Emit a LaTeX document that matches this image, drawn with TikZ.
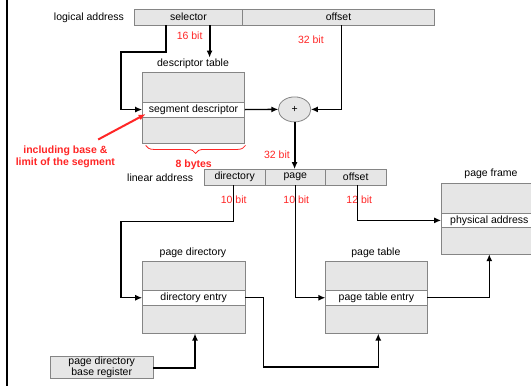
\documentclass[tikz,border=0pt]{standalone}
\usepackage{fontspec}
\setmainfont{Liberation Sans}
\usetikzlibrary{arrows.meta,decorations.pathreplacing,shapes.geometric,calc}
\definecolor{boxfill}{HTML}{E6E6E6}
\definecolor{boxline}{HTML}{858585}
\definecolor{lbl}{HTML}{FF2626}
\begin{document}
\begin{tikzpicture}[x=1pt,y=-1pt,
  every node/.style={font=\fontsize{10.5}{12}\selectfont, inner sep=0pt, outer sep=0pt},
  cell/.style={draw=boxline, fill=boxfill, line width=0.8pt, anchor=north west},
  rowcell/.style={cell, fill=white},
  redlbl/.style={text=lbl},
  redbold/.style={text=lbl, font=\fontsize{10.5}{13}\selectfont\bfseries},
  conn/.style={draw=black, line width=1.4pt, -{Latex[length=7pt,width=6pt]}},
  thickconn/.style={conn, line width=2pt},
  plain/.style={draw=black, line width=1.4pt}
]
\useasboundingbox (0,0) rectangle (531,386);
\clip (0,0) rectangle (531,386);
\fill[white] (0,0) rectangle (531,386);
\draw[line width=2pt] (7.4,0) -- (7.4,386);

% logical address
\node (la) at (89,17.6) {logical address};
\node[cell, minimum width=108.1pt, minimum height=16.4pt] (sel) at (134.4,9) {selector};
\node[cell, minimum width=192pt, minimum height=16.4pt] (off) at (242.5,9) {offset};
\node[redlbl] (b16) at (189.6,35.6) {16 bit};
\node[redlbl] (b32a) at (310.9,40) {32 bit};

% descriptor table
\node (dtl) at (193,63.7) {descriptor table};
\node[cell, minimum width=102.6pt, minimum height=71.2pt] (dt) at (142.2,72.5) {};
\node[rowcell, minimum width=102.6pt, minimum height=15.3pt] (dtrow) at (142.2,101.9) {segment descriptor};
\node[draw=boxline, fill=boxfill, line width=0.8pt, ellipse, minimum width=32.5pt, minimum height=25pt] (plus) at (294.6,109.4) {+};

\node[redbold] (incl) at (65.4,150.5) {including base \&};
\node[redbold] (lim) at (65.4,163.3) {limit of the segment};
\node[redbold] (bytes) at (193.7,164.7) {8 bytes};
\node[redlbl] (b32b) at (277,155.2) {32 bit};
\draw[decorate, decoration={brace, mirror, amplitude=8pt}, draw=lbl, line width=0.8pt]
  ($(dt.south west)+(3.4,1.7)$) -- ($(dt.south east)+(0.7,1.7)$);

% linear address
\node (lal) at (160.2,177.6) {linear address};
\node[cell, minimum width=61pt, minimum height=15.9pt] (ldir) at (204.2,169.1) {directory};
\node[cell, minimum width=60.2pt, minimum height=15.9pt] (lpage) at (265.2,169.1) {page};
\node[cell, minimum width=60.6pt, minimum height=15.9pt] (loff) at (325.4,169.1) {offset};
\node[redlbl] (b10a) at (233.7,199.6) {10 bit};
\node[redlbl] (b10b) at (296.3,199.6) {10 bit};
\node[redlbl] (b12) at (359.3,199.6) {12 bit};

% page frame
\node (pfl) at (491,174.2) {page frame};
\node[cell, minimum width=96.2pt, minimum height=70.5pt] (pf) at (441.2,183.7) {};
\node[rowcell, minimum width=96.2pt, minimum height=14.6pt] (pfrow) at (441.2,213.1) {physical address};

% page directory
\node (pdl) at (193,252.9) {page directory};
\node[cell, minimum width=103pt, minimum height=72.5pt] (pd) at (142.2,261) {};
\node[rowcell, minimum width=103pt, minimum height=15.3pt] (pdrow) at (142.2,290.1) {directory entry};

% page table
\node (ptl) at (375.9,252.9) {page table};
\node[cell, minimum width=102pt, minimum height=72.5pt] (pt) at (325.4,261) {};
\node[rowcell, minimum width=102pt, minimum height=15.3pt] (ptrow) at (325.4,290.1) {page table entry};

% base register
\node[cell, minimum width=103.3pt, minimum height=22.6pt, align=center, font=\fontsize{10.5}{11}\selectfont] (pdbr) at (50.1,356.2) {page directory\\base register};

% connectors
\draw[conn] ([xshift=31.6pt]sel.south west) |- (121,51.8) |- (dtrow.west);
\draw[thickconn] ([xshift=75.2pt]sel.south west) -- ++(0,32.2);
\draw[conn] ([xshift=98.8pt]off.south west) |- (plus.east);
\draw[conn] (dtrow.east) -- (plus.west);
\draw[thickconn] (plus.south) -- (lpage.north -| plus.south);
\draw[draw=lbl, line width=2pt, -{Latex[length=7pt,width=6pt]}] ($(incl.north)+(32.8,-6.1)$) -- ($(dtrow.south west)+(3.4,-3.1)$);

\draw[conn] ([xshift=-1pt]ldir.south) |- (120.9,221.6) |- (pdrow.west);
\draw[conn] (lpage.south) |- (ptrow.west);
\draw[conn] ([xshift=1.6pt]loff.south) |- (pfrow.west);
\draw[conn] (pdrow.east) -- ++(18.3,0) -- ++(0,69.4) -| ([xshift=1.9pt]pt.south);
\draw[conn] (ptrow.east) -| (pf.south);
\draw[thickconn] (pdbr.east) -| ([xshift=1.3pt]pd.south);
\end{tikzpicture}
\end{document}
